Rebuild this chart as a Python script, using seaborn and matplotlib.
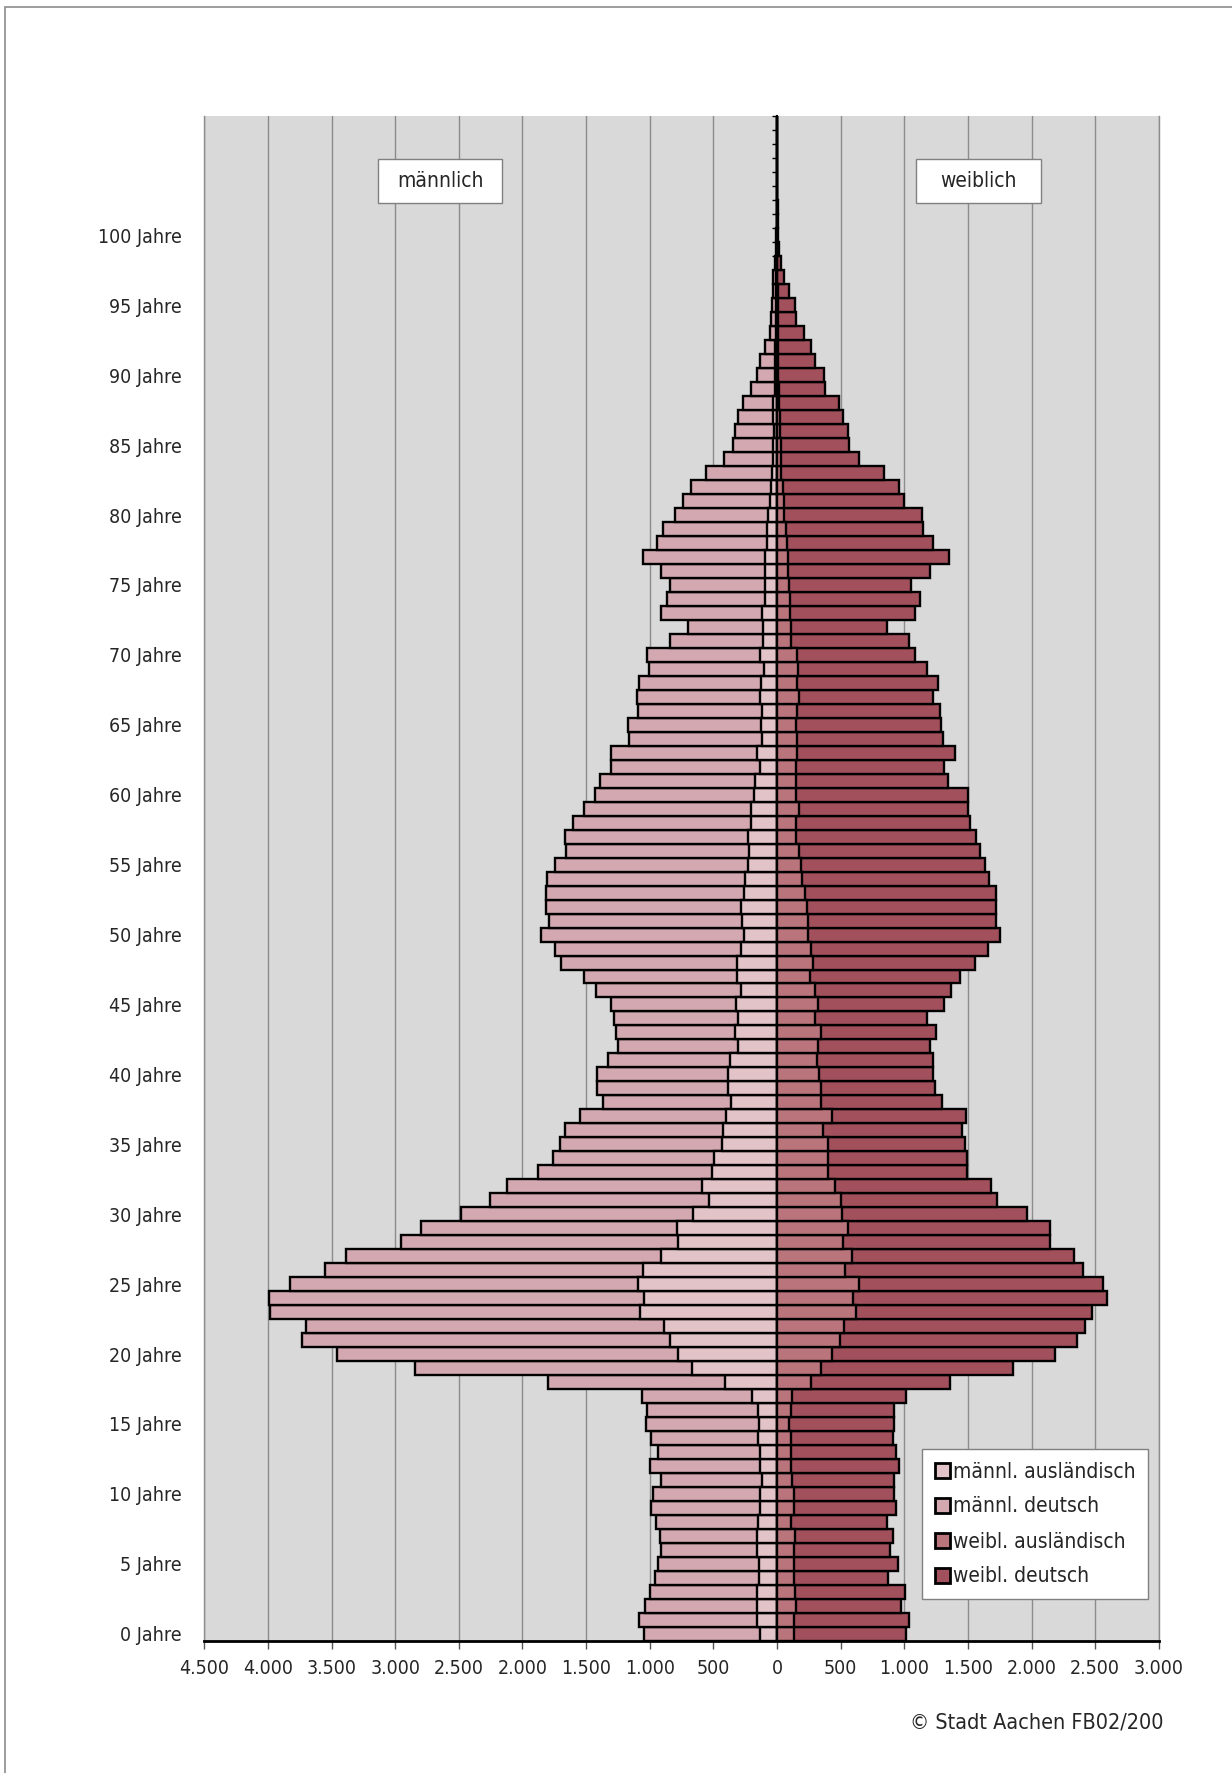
import matplotlib
matplotlib.use("Agg")
import matplotlib.pyplot as plt
from matplotlib.patches import Patch, Rectangle
from matplotlib.ticker import FuncFormatter
import numpy as np
import pandas as pd
import seaborn as sns

# ====================================
# DATA (ages 0 .. 108)
# ====================================

ages = list(range(0, 109))

male_foreign = [
    135, 155, 155, 155, 140, 140, 155, 155, 150, 135,
    135, 116, 130, 130, 150, 145, 150, 193, 411, 667,
    774, 841, 890, 1078, 1045, 1093, 1054, 909, 774, 783,
    658, 532, 590, 513, 493, 435, 426, 397, 363, 382,
    382, 368, 305, 329, 310, 324, 280, 314, 314, 285,
    256, 276, 285, 256, 251, 227, 222, 227, 203, 203,
    184, 174, 135, 160, 121, 126, 116, 135, 126, 102,
    135, 111, 111, 121, 97, 97, 97, 97, 77, 77,
    68, 53, 48, 39, 34, 34, 24, 29, 29, 19,
    19, 19, 15, 10, 8, 8, 5, 5, 3, 1,
    1, 0, 0, 0, 0, 0, 0, 0, 0,
]

male_german = [
    910, 928, 880, 841, 818, 798, 759, 764, 803, 852,
    842, 798, 866, 808, 837, 885, 875, 871, 1388, 2177,
    2684, 2888, 2810, 2902, 2950, 2732, 2501, 2476, 2181, 2017,
    1828, 1722, 1533, 1368, 1267, 1267, 1238, 1151, 1006, 1030,
    1035, 962, 948, 933, 972, 982, 1142, 1200, 1383, 1456,
    1596, 1518, 1528, 1562, 1553, 1519, 1437, 1437, 1398, 1311,
    1247, 1219, 1171, 1146, 1045, 1044, 977, 968, 962, 904,
    885, 730, 590, 788, 764, 740, 812, 952, 866, 822,
    730, 682, 624, 517, 382, 314, 305, 281, 237, 189,
    141, 116, 77, 43, 36, 31, 29, 24, 12, 7,
    4, 3, 2, 1, 1, 0, 0, 0, 0,
]

female_foreign = [
    135, 130, 150, 145, 135, 135, 135, 145, 111, 135,
    135, 121, 111, 111, 111, 97, 111, 116, 266, 348,
    430, 493, 527, 619, 600, 643, 532, 590, 517, 556,
    508, 503, 455, 401, 401, 401, 363, 435, 348, 343,
    329, 314, 319, 343, 300, 324, 300, 261, 285, 266,
    242, 242, 237, 218, 198, 189, 169, 150, 150, 174,
    150, 150, 150, 155, 155, 150, 155, 174, 155, 164,
    155, 111, 111, 106, 106, 92, 87, 87, 82, 73,
    58, 53, 48, 34, 34, 29, 24, 24, 19, 15,
    10, 10, 10, 10, 8, 8, 5, 3, 2, 1,
    1, 0, 0, 0, 0, 0, 0, 0, 0,
]

female_german = [
    876, 910, 822, 861, 740, 813, 750, 769, 750, 803,
    784, 798, 847, 822, 798, 822, 808, 895, 1093, 1504,
    1756, 1867, 1891, 1857, 1992, 1920, 1876, 1746, 1625, 1591,
    1460, 1223, 1228, 1093, 1093, 1079, 1088, 1050, 948, 895,
    895, 910, 885, 910, 880, 987, 1064, 1175, 1272, 1393,
    1513, 1480, 1480, 1504, 1466, 1446, 1427, 1412, 1364, 1325,
    1349, 1194, 1161, 1243, 1146, 1141, 1127, 1050, 1107, 1016,
    928, 924, 755, 977, 1016, 962, 1117, 1262, 1146, 1078,
    1078, 948, 910, 807, 609, 537, 532, 498, 465, 362,
    358, 290, 256, 203, 142, 137, 87, 55, 27, 14,
    9, 8, 5, 3, 2, 2, 1, 1, 0,
]

legend_labels = ['männl. ausländisch', 'männl. deutsch',
                 'weibl. ausländisch', 'weibl. deutsch']

x_ticks = list(range(-4500, 3001, 500))
age_ticks = list(range(0, 101, 5))

# ====================================
# COLOURS / FONTS
# ====================================

C_MF = '#e1c3c8'
C_MD = '#d4a8b0'
C_FF = '#ba747c'
C_FD = '#a3505d'

sns.set_theme(style="white")
plt.rcParams['font.family'] = ['DejaVu Sans']
plt.rcParams['font.stretch'] = 'condensed'

df = pd.DataFrame({
    'age': ages,
    'm_for': male_foreign,
    'm_ger': male_german,
    'f_for': female_foreign,
    'f_ger': female_german,
})
df['m_total'] = -(df['m_for'] + df['m_ger'])
df['m_inner'] = -df['m_for']
df['f_total'] = df['f_for'] + df['f_ger']
df['f_inner'] = df['f_for']

# ====================================
# FIGURE
# ====================================

fig = plt.figure(figsize=(12.32, 17.73), dpi=100)
fig.patch.set_facecolor('white')
ax = fig.add_axes([0.1658, 0.0746, 0.7748, 0.8597])
ax.set_facecolor('#d9d9d9')

bar_kw = dict(orient='h', native_scale=True, width=1.0, errorbar=None,
              saturation=1, edgecolor='black', linewidth=1.7, ax=ax)

sns.barplot(data=df, x='m_total', y='age', color=C_MD, **bar_kw)
sns.barplot(data=df, x='m_inner', y='age', color=C_MF, **bar_kw)
sns.barplot(data=df, x='f_total', y='age', color=C_FD, **bar_kw)
sns.barplot(data=df, x='f_inner', y='age', color=C_FF, **bar_kw)

ax.set_xlim(-4500, 3000)
ax.set_ylim(-0.5, 108.5)
ax.set_xlabel('')
ax.set_ylabel('')

ax.set_axisbelow(True)
ax.set_xticks(x_ticks)
ax.xaxis.grid(True, color='#8c8c8c', linewidth=1.0)
ax.yaxis.grid(False)
ax.xaxis.set_major_formatter(
    FuncFormatter(lambda v, p: f"{abs(int(v)):,}".replace(',', '.')))
ax.tick_params(axis='x', bottom=True, direction='out', length=6,
               width=1, color='#555555', pad=7, labelsize=14)

ax.set_yticks(age_ticks)
ax.set_yticklabels([f"{a} Jahre" for a in age_ticks])
ax.tick_params(axis='y', left=False, length=0, pad=16, labelsize=14)

for side in ['left', 'right']:
    ax.spines[side].set_color('#8c8c8c')
    ax.spines[side].set_linewidth(1.0)
ax.spines['top'].set_visible(False)
ax.spines['bottom'].set_color('black')
ax.spines['bottom'].set_linewidth(2.0)

# category axis at zero with tick marks
sec = ax.secondary_yaxis(0.6)
sec.set_alignment('left')
sec.set_yticks(np.arange(-0.5, 109, 1))
sec.set_yticklabels([])
sec.tick_params(direction='out', length=3.5, width=1, color='black')
sec.spines['left'].set_color('black')
sec.spines['left'].set_linewidth(1.5)

# ====================================
# LABEL BOXES
# ====================================

for (x0, x1, txt) in [(0.1825, 0.3119, 'männlich'), (0.7453, 0.8762, 'weiblich')]:
    ax.add_patch(Rectangle((x0, 0.9430), x1 - x0, 0.0289,
                           transform=ax.transAxes, facecolor='white',
                           edgecolor='#808080', linewidth=1.0, zorder=5))
    ax.text((x0 + x1) / 2, 0.9575, txt, transform=ax.transAxes,
            ha='center', va='center', fontsize=15, zorder=6)

# ====================================
# LEGEND
# ====================================

handles = [Patch(facecolor=c, edgecolor='black', linewidth=2)
           for c in [C_MF, C_MD, C_FF, C_FD]]
leg = fig.legend(handles, legend_labels, loc='upper left',
                 bbox_to_anchor=(922 / 1232, 1 - 1449 / 1773),
                 fontsize=15, frameon=True, fancybox=False,
                 framealpha=1, facecolor='white',
                 handlelength=0.75, handleheight=0.75, handletextpad=0.15,
                 labelspacing=0.72, borderpad=0.6, borderaxespad=0)
leg.get_frame().set_edgecolor('#808080')
leg.get_frame().set_linewidth(1.0)

# ====================================
# FOOTER / FRAME
# ====================================

fig.text(1163 / 1232, 1 - 1723 / 1773, '© Stadt Aachen FB02/200',
         ha='right', va='center', fontsize=15.5)

fig.add_artist(Rectangle((5 / 1232, -0.1), 2, 0.1 + 1 - 7 / 1773,
                         transform=fig.transFigure, fill=False,
                         edgecolor='#8c8c8c', linewidth=1.2))

fig.savefig('out.png', dpi=100)
